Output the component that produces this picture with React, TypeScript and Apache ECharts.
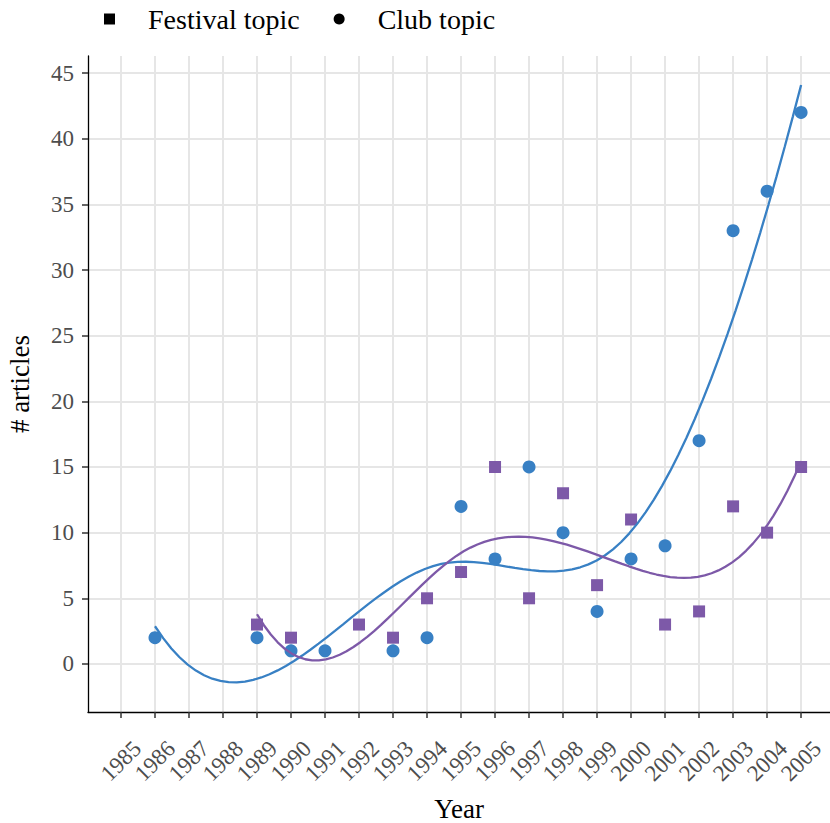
import React, { useEffect, useRef } from "react";
import * as echarts from "echarts";

const clubYears = [1986, 1989, 1990, 1991, 1993, 1994, 1995, 1996, 1997, 1998, 1999, 2000, 2001, 2002, 2003, 2004, 2005];
const clubCounts = [2, 2, 1, 1, 1, 2, 12, 8, 15, 10, 4, 8, 9, 17, 33, 36, 42];
const festivalYears = [1989, 1990, 1992, 1993, 1994, 1995, 1996, 1997, 1998, 1999, 2000, 2001, 2002, 2003, 2004, 2005];
const festivalCounts = [3, 2, 3, 2, 5, 7, 15, 5, 13, 6, 11, 3, 4, 12, 10, 15];
const yearTicks = Array.from({ length: 21 }, (_, i) => 1985 + i);
const countTicks = [0, 5, 10, 15, 20, 25, 30, 35, 40, 45];

const BLUE = "#3880C4";
const PURPLE = "#7D59A8";
const FONT = "'Liberation Serif', 'DejaVu Serif', serif";

function solve(A: number[][]): number[] {
  const m = A.length;
  for (let c = 0; c < m; c++) {
    let p = c;
    for (let r = c + 1; r < m; r++) if (Math.abs(A[r][c]) > Math.abs(A[p][c])) p = r;
    [A[c], A[p]] = [A[p], A[c]];
    for (let r = 0; r < m; r++) {
      if (r === c) continue;
      const f = A[r][c] / A[c][c];
      for (let j = c; j <= m; j++) A[r][j] -= f * A[c][j];
    }
  }
  return A.map((row, i) => row[m] / row[i]);
}

type Basis = (x: number) => number[];

// least-squares fit (like lm(y ~ splines::bs(x, df = 5))) evaluated at 80 points over the data range
function lsFit(xs: number[], ys: number[], basis: Basis, n = 80): number[][] {
  const rows = xs.map(basis);
  const m = rows[0].length;
  const A: number[][] = Array.from({ length: m }, () => new Array(m + 1).fill(0));
  rows.forEach((r, k) => {
    for (let i = 0; i < m; i++) {
      for (let j = 0; j < m; j++) A[i][j] += r[i] * r[j];
      A[i][m] += r[i] * ys[k];
    }
  });
  const coef = solve(A);
  const lo = Math.min(...xs);
  const hi = Math.max(...xs);
  return Array.from({ length: n }, (_, i) => {
    const x = lo + ((hi - lo) * i) / (n - 1);
    const b = basis(x);
    return [x, b.reduce((s, v, j) => s + v * coef[j], 0)];
  });
}

function quantile(xs: number[], p: number): number {
  const s = [...xs].sort((a, b) => a - b);
  const h = (s.length - 1) * p;
  const lo = Math.floor(h);
  return s[lo] + (h - lo) * (s[Math.min(lo + 1, s.length - 1)] - s[lo]);
}

const cube = (v: number) => (v > 0 ? v * v * v : 0);

function bsBasis(xs: number[], df: number): Basis {
  const nk = df - 3;
  const knots = Array.from({ length: nk }, (_, i) => quantile(xs, (i + 1) / (nk + 1)));
  return (x) => {
    const t = (x - 1995) / 10;
    return [1, t, t * t, t * t * t, ...knots.map((k) => cube((x - k) / 10))];
  };
}

export default function App() {
  const ref = useRef<HTMLDivElement>(null);
  useEffect(() => {
    if (!ref.current) return;
    const chart = echarts.init(ref.current, null, { renderer: "svg" });
    const clubPts = clubYears.map((y, i) => [y, clubCounts[i]]);
    const festPts = festivalYears.map((y, i) => [y, festivalCounts[i]]);
    chart.setOption({
      animation: false,
      backgroundColor: "#ffffff",
      textStyle: { fontFamily: FONT },
      legend: {
        left: 99,
        top: 0,
        itemWidth: 11,
        itemHeight: 11,
        itemGap: 34,
        textStyle: { fontFamily: FONT, fontSize: 28, color: "#000", padding: [0, 0, 0, 28] },
        data: [
          { name: "Festival topic", icon: "rect", itemStyle: { color: "#000" } },
          { name: "Club topic", icon: "circle", itemStyle: { color: "#000" } },
        ],
      },
      grid: { left: 88, right: 0, top: 56, bottom: 111, containLabel: false, outerBoundsMode: "none" },
      xAxis: {
        type: "value",
        min: 1984.03,
        max: 2005.85,
        name: "Year",
        nameLocation: "middle",
        nameGap: 83,
        nameTextStyle: { fontFamily: FONT, fontSize: 27, color: "#000" },
        axisLine: { show: true, onZero: false, lineStyle: { color: "#000", width: 1.3 } },
        axisTick: { show: true, length: 6, lineStyle: { color: "#333", width: 1.5 }, customValues: yearTicks },
        axisLabel: {
          customValues: yearTicks, rotate: 45, align: "center", verticalAlign: "middle", margin: 49,
          fontFamily: FONT, fontSize: 23, color: "#4D4D4D", formatter: (v: number) => String(v),
        },
        splitLine: { show: true, lineStyle: { color: "#E6E6E6", width: 2 } },
      },
      yAxis: {
        type: "value",
        min: -3.66,
        max: 46.3,
        name: "# articles",
        nameLocation: "middle",
        nameGap: 55,
        nameRotate: 90,
        nameTextStyle: { fontFamily: FONT, fontSize: 27, color: "#000" },
        axisLine: { show: true, onZero: false, lineStyle: { color: "#000", width: 1.3 } },
        axisTick: { show: true, length: 6, lineStyle: { color: "#333", width: 1.5 }, customValues: countTicks },
        axisLabel: { customValues: countTicks, margin: 14, fontFamily: FONT, fontSize: 23, color: "#4D4D4D" },
        splitLine: { show: true, lineStyle: { color: "#E6E6E6", width: 2 } },
      },
      series: [
        { name: "Festival topic", type: "scatter", symbol: "rect", symbolSize: 12, data: festPts, itemStyle: { color: PURPLE, opacity: 1 }, z: 2 },
        { name: "Club topic", type: "scatter", symbol: "circle", symbolSize: 13, data: clubPts, itemStyle: { color: BLUE, opacity: 1 }, z: 2 },
        { name: "Club fit", type: "line", data: lsFit(clubYears, clubCounts, bsBasis(clubYears, 5)), showSymbol: false, lineStyle: { color: BLUE, width: 2.3 }, z: 3 },
        { name: "Festival fit", type: "line", data: lsFit(festivalYears, festivalCounts, bsBasis(festivalYears, 5)), showSymbol: false, lineStyle: { color: PURPLE, width: 2.3 }, z: 3 },
      ],
    });
    return () => chart.dispose();
  }, []);
  return <div ref={ref} style={{ position: "absolute", left: 0, top: 0, width: 830, height: 823 }} />;
}
